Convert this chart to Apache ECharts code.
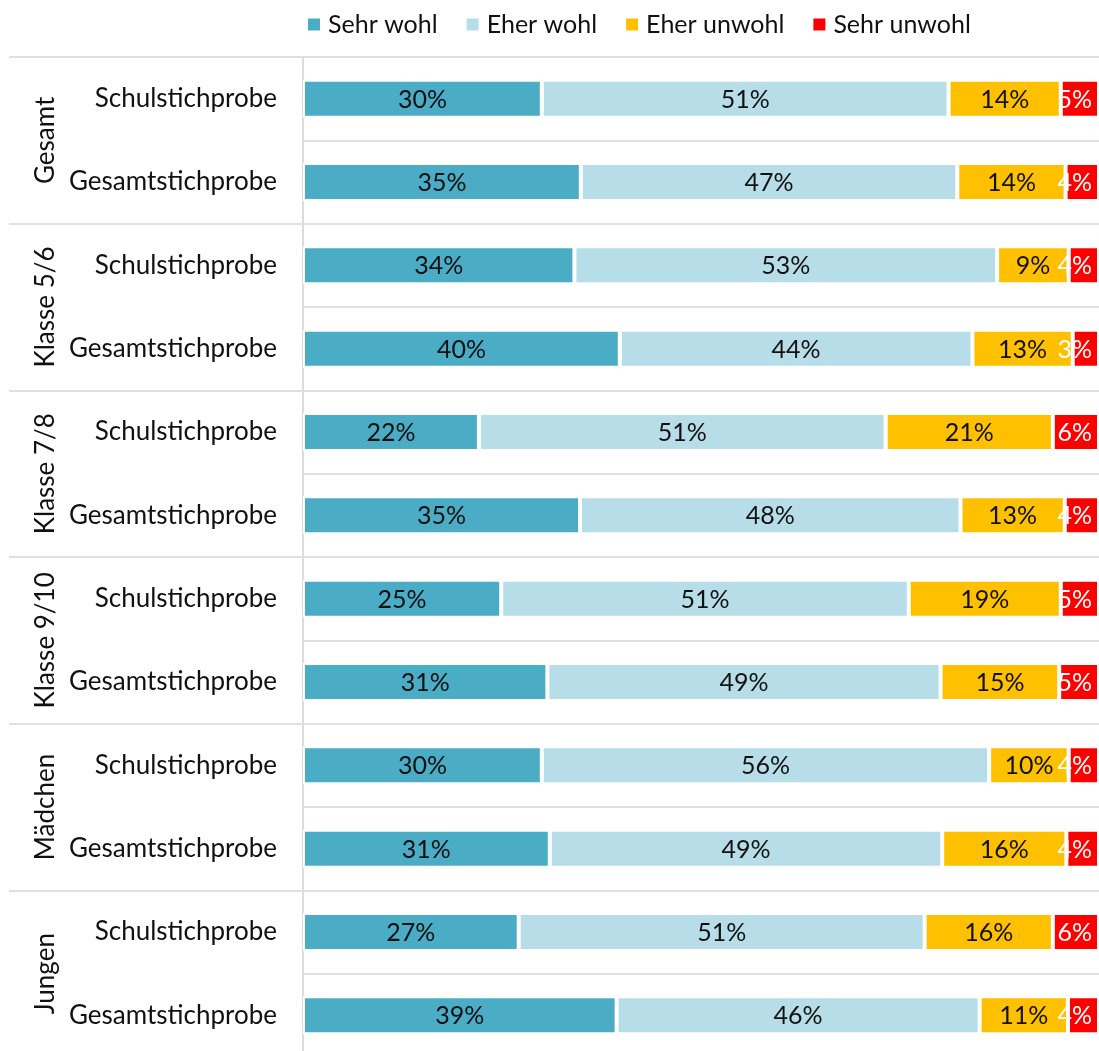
<!DOCTYPE html>
<html>
<head>
<meta charset="utf-8">
<script src="https://cdn.jsdelivr.net/npm/echarts@6/dist/echarts.min.js"></script>
<style>html,body{margin:0;padding:0;background:#fff}#c{width:1099px;height:1051px}</style>
</head>
<body>
<div id="c"></div>
<script>
const groups = ['Gesamt', 'Klasse 5/6', 'Klasse 7/8', 'Klasse 9/10', 'Mädchen', 'Jungen'];
const rows = ['Schulstichprobe', 'Gesamtstichprobe', 'Schulstichprobe', 'Gesamtstichprobe',
  'Schulstichprobe', 'Gesamtstichprobe', 'Schulstichprobe', 'Gesamtstichprobe',
  'Schulstichprobe', 'Gesamtstichprobe', 'Schulstichprobe', 'Gesamtstichprobe'];
const seriesNames = ['Sehr wohl', 'Eher wohl', 'Eher unwohl', 'Sehr unwohl'];
const sehrWohl   = [30.0, 34.9, 34.1, 39.8, 22.1, 34.8, 24.9, 30.7, 30.0, 31.0, 27.1, 39.4];
const eherWohl   = [51.1, 47.3, 53.1, 44.3, 51.1, 47.8, 51.2, 49.4, 56.2, 49.3, 51.0, 45.6];
const eherUnwohl = [14.1, 13.6, 9.0, 12.6, 21.0, 13.1, 19.1, 14.9, 10.0, 15.6, 16.1, 11.1];
const sehrUnwohl = [4.8, 4.2, 3.8, 3.3, 5.8, 4.3, 4.8, 5.0, 3.8, 4.1, 5.8, 3.9];
const colors = ['#4BACC6', '#B7DEE8', '#FFC000', '#FF0000'];

const FONT = 'Lato';
const values = [sehrWohl, eherWohl, eherUnwohl, sehrUnwohl];

const chart = echarts.init(document.getElementById('c'));
chart.setOption({
  animation: false,
  textStyle: { fontFamily: FONT },
  color: colors,
  legend: {
    data: seriesNames,
    left: 301, top: 7,
    icon: 'rect', itemWidth: 14, itemHeight: 14, itemGap: 27,
    textStyle: { fontFamily: FONT, fontSize: 25, color: '#111', padding: [0, 0, 0, 2] }
  },
  grid: { left: 303, right: 0, top: 57, bottom: -6, containLabel: false, outerBoundsMode: 'none' },
  xAxis: { type: 'value', min: 0, max: 100, show: false },
  yAxis: [
    {
      type: 'category', inverse: true, data: rows,
      axisLine: { show: true, lineStyle: { color: '#dcdcdc', width: 2 } },
      axisTick: { show: false },
      splitLine: { show: true, interval: 0, lineStyle: { color: '#e0e0e0', width: 2 } },
      axisLabel: { fontFamily: FONT, fontSize: 26, color: '#111', margin: 26 }
    },
    {
      type: 'category', inverse: true, data: groups, position: 'left', offset: 0,
      axisLine: { show: false },
      axisTick: { show: true, length: 294, interval: 0, lineStyle: { color: '#e0e0e0', width: 2 } },
      axisLabel: { fontFamily: FONT, fontSize: 26, color: '#111', rotate: 90, margin: 244, interval: 0 }
    }
  ],
  series: seriesNames.map((name, i) => ({
    name, type: 'bar', stack: 'total', yAxisIndex: 0,
    data: values[i], barWidth: 38,
    itemStyle: { color: colors[i], borderColor: '#fff', borderWidth: 2 },
    label: {
      show: true,
      position: i === 3 ? 'insideRight' : 'inside',
      distance: 7,
      offset: [0, 1],
      fontFamily: FONT, fontSize: 25,
      color: i === 3 ? '#fff' : '#111',
      formatter: p => Math.round(p.value) + '%'
    }
  }))
});
</script>
</body>
</html>
